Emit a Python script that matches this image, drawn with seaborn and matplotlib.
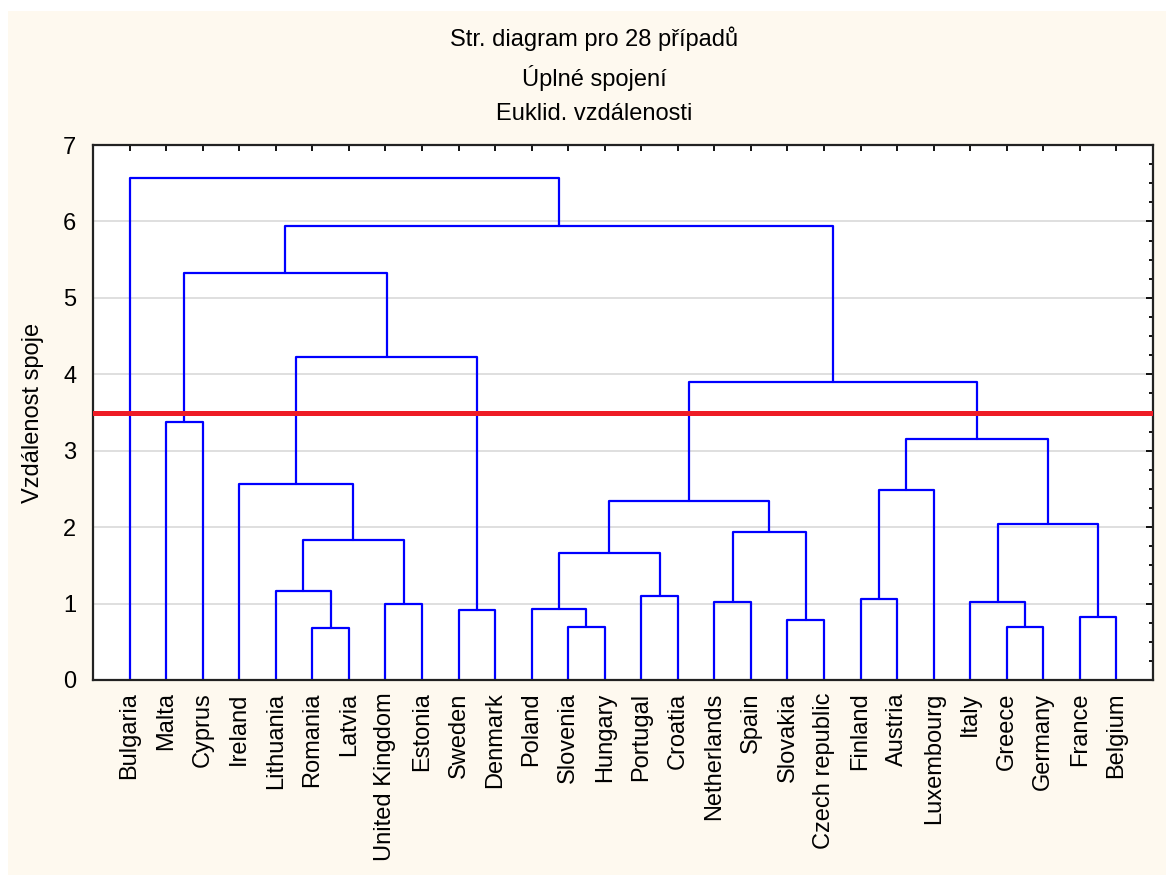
import numpy as np
import pandas as pd
import matplotlib
matplotlib.use("Agg")
import matplotlib.pyplot as plt
import matplotlib.patches as mpatches
from matplotlib.ticker import MultipleLocator
import seaborn as sns

# --- data: leaf order and merges (complete linkage, Euclidean distance) ---
zeme = ["Bulgaria", "Malta", "Cyprus", "Ireland", "Lithuania", "Romania", "Latvia",
        "United Kingdom", "Estonia", "Sweden", "Denmark", "Poland", "Slovenia", "Hungary",
        "Portugal", "Croatia", "Netherlands", "Spain", "Slovakia", "Czech republic",
        "Finland", "Austria", "Luxembourg", "Italy", "Greece", "Germany", "France", "Belgium"]

# nodes 0..27 are leaves, node 28+i is created by merge i
spoj_levy = [5, 4, 7, 29, 3, 9, 1, 12, 32, 11, 14, 37, 16, 18, 40, 39, 20, 44, 24, 23, 26, 47, 45, 43, 34, 52, 0]
spoj_pravy = [6, 28, 8, 30, 31, 10, 2, 13, 33, 35, 15, 38, 17, 19, 41, 42, 21, 22, 25, 46, 27, 48, 49, 50, 36, 51, 53]
spoj_vyska = [0.68, 1.16, 1.00, 1.83, 2.57, 0.92, 3.37, 0.70, 4.23, 0.93, 1.10, 1.66, 1.02, 0.78,
              1.93, 2.34, 1.06, 2.49, 0.70, 1.02, 0.83, 2.04, 3.15, 3.90, 5.33, 5.94, 6.57]

hranice = 3.5

# --- build dendrogram segments (each link drawn as an upside-down U) ---
n = len(zeme)
pozice = {i: float(i) for i in range(n)}
vyska = {i: 0.0 for i in range(n)}
radky = []
for k, (a, b, h) in enumerate(zip(spoj_levy, spoj_pravy, spoj_vyska)):
    xa, xb = pozice[a], pozice[b]
    for bod, (x, y) in enumerate([(xa, vyska[a]), (xa, h), (xb, h), (xb, vyska[b])]):
        radky.append({"spoj": k, "bod": bod, "x": x, "y": y})
    pozice[n + k] = (xa + xb) / 2
    vyska[n + k] = h
df = pd.DataFrame(radky)

sns.set_style("white")
plt.rcParams["font.family"] = ["Liberation Sans", "DejaVu Sans"]
plt.rcParams["text.color"] = "black"
plt.rcParams["axes.labelcolor"] = "black"
plt.rcParams["xtick.color"] = "black"
plt.rcParams["ytick.color"] = "black"

fig = plt.figure(figsize=(11.66, 8.75), dpi=100)
fig.patch.set_facecolor("white")
fig.patches.append(mpatches.Rectangle((8 / 1166, 0), 1, 1 - 11 / 875, transform=fig.transFigure,
                                      facecolor="#FEF9EF", edgecolor="none", zorder=-10))
ax = fig.add_axes([93 / 1166, 1 - 680 / 875, (1153 - 93) / 1166, (680 - 145) / 875])
ax.set_facecolor("white")

for yy in range(1, 7):
    ax.axhline(yy, color="#DCDCDC", lw=1.3, zorder=0)

sns.lineplot(data=df, x="x", y="y", units="spoj", estimator=None, sort=False,
             color="#0000FF", lw=1.6, ax=ax, zorder=2)
ax.axhline(hranice, color="#EE1C25", lw=3.6, zorder=3)

ax.set_xlim(-1, n)
ax.set_ylim(0, 7)
ax.set_xticks(range(n))
ax.set_xticklabels(zeme, rotation=90, fontsize=17, va="top", ha="center")
ax.yaxis.set_major_locator(MultipleLocator(1))
ax.yaxis.set_minor_locator(MultipleLocator(0.25))
ax.tick_params(axis="both", which="both", direction="in", top=True, right=True,
               color="black", width=1.3)
ax.tick_params(axis="x", which="major", length=4, pad=9)
ax.tick_params(axis="y", which="major", length=5, labelsize=17, pad=12)
ax.tick_params(axis="y", which="minor", length=3)
for s in ax.spines.values():
    s.set_visible(True)
    s.set_color("#222222")
    s.set_linewidth(1.6)

ax.set_xlabel("")
ax.set_ylabel("Vzdálenost spoje", fontsize=17, labelpad=14)

tx = 594 / 1166
fig.text(tx, 1 - 39 / 875, "Str. diagram pro 28 případů", ha="center", va="center", fontsize=17)
fig.text(tx, 1 - 78 / 875, "Úplné spojení", ha="center", va="center", fontsize=17)
fig.text(tx, 1 - 114 / 875, "Euklid. vzdálenosti", ha="center", va="center", fontsize=17)

fig.savefig("out.png", dpi=100, facecolor=fig.get_facecolor())
